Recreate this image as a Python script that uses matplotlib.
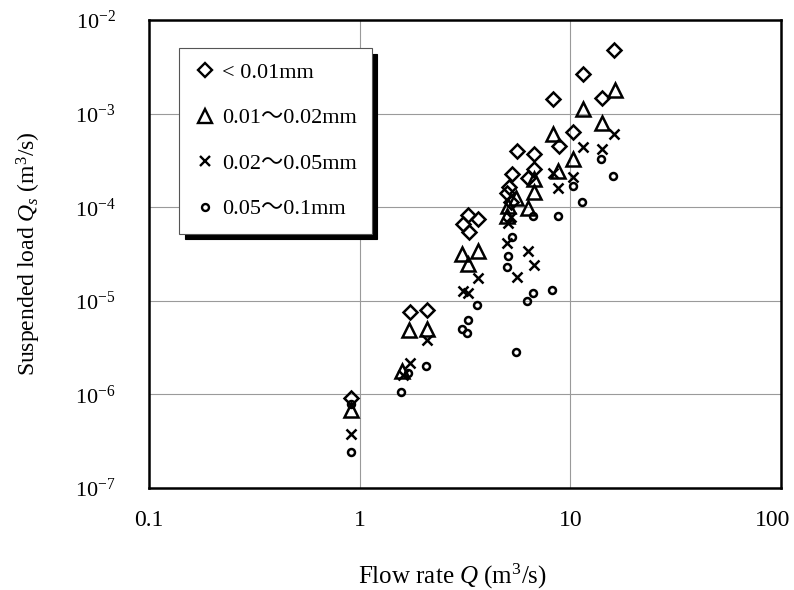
import math
import matplotlib
matplotlib.use("Agg")
import matplotlib.pyplot as plt
import matplotlib.transforms as mtransforms
from matplotlib.ticker import FixedLocator, FuncFormatter, NullLocator

plt.rcParams['font.family'] = ['Liberation Serif', 'Noto Sans CJK JP']
plt.rcParams['mathtext.fontset'] = 'custom'
plt.rcParams['mathtext.rm'] = 'Liberation Serif'
plt.rcParams['mathtext.it'] = 'Liberation Serif:italic'

# ---- data ----
labels = ['< 0.01mm', '0.01～0.02mm', '0.02～0.05mm', '0.05～0.1mm']

q_d = [0.91, 1.73, 2.09, 3.27, 3.64, 3.09, 3.30, 5.58, 6.72, 5.28, 6.72, 6.29,
       5.11, 5.00, 5.23, 8.27, 8.83, 10.29, 11.47, 14.13, 16.06]
qs_d = [9.2e-7, 7.6e-6, 7.9e-6, 8.3e-5, 7.5e-5, 6.6e-5, 5.4e-5, 4.0e-4, 3.7e-4,
        2.26e-4, 2.56e-4, 2.05e-4, 1.64e-4, 1.42e-4, 1.14e-4, 1.43e-3, 4.5e-4,
        6.4e-4, 2.65e-3, 1.47e-3, 4.8e-3]

q_t = [0.91, 1.59, 1.71, 2.09, 3.06, 3.64, 3.27, 5.52, 5.06, 5.00, 6.29, 6.72,
       6.72, 8.73, 8.27, 10.29, 11.47, 14.13, 16.23]
qs_t = [6.8e-7, 1.78e-6, 4.9e-6, 5.0e-6, 3.2e-5, 3.4e-5, 2.5e-5, 1.25e-4, 1.03e-4,
        8.0e-5, 9.8e-5, 2.0e-4, 1.45e-4, 2.45e-4, 6.1e-4, 3.3e-4, 1.12e-3, 8.0e-4,
        1.79e-3]

q_x = [0.91, 1.61, 1.73, 2.09, 3.64, 3.09, 3.27, 5.23, 5.06, 5.00, 6.29, 6.72,
       5.58, 8.27, 8.73, 10.29, 11.47, 14.13, 16.06]
qs_x = [3.8e-7, 1.61e-6, 2.16e-6, 3.8e-6, 1.75e-5, 1.27e-5, 1.21e-5, 7.9e-5,
        6.8e-5, 4.15e-5, 3.4e-5, 2.4e-5, 1.8e-5, 2.32e-4, 1.6e-4, 2.1e-4, 4.4e-4,
        4.2e-4, 6.05e-4]

q_c = [0.91, 0.91, 1.57, 1.70, 2.06, 3.60, 3.27, 3.06, 3.23, 5.28, 5.06, 5.00,
       6.64, 6.64, 6.23, 5.52, 8.18, 8.73, 10.29, 11.35, 13.97, 15.92]
qs_c = [7.9e-7, 2.4e-7, 1.06e-6, 1.69e-6, 2.0e-6, 9.0e-6, 6.2e-6, 5.0e-6, 4.5e-6,
        4.8e-5, 3.0e-5, 2.3e-5, 8.0e-5, 1.21e-5, 1.0e-5, 2.84e-6, 1.3e-5, 8.0e-5,
        1.68e-4, 1.14e-4, 3.27e-4, 2.16e-4]

x_ticks = [0.1, 1, 10, 100]
y_ticks = [1e-7, 1e-6, 1e-5, 1e-4, 1e-3, 1e-2]

# ---- figure ----
fig = plt.figure(figsize=(7.94, 5.90), dpi=100)
ax = fig.add_axes([149/794, 1-488/590, 632/794, 468/590])
ax.set_xscale('log')
ax.set_yscale('log')
ax.set_xlim(0.1, 100)
ax.set_ylim(1e-7, 1e-2)

ax.grid(True, which='major', color='#9a9a9a', linewidth=0.8)
ax.set_axisbelow(True)

kw = dict(linestyle='none', color='black', markerfacecolor='none', markeredgewidth=1.8)
ax.plot(q_d, qs_d, marker='D', markersize=7, label=labels[0], **kw)
ax.plot(q_t, qs_t, marker='^', markersize=9.5, label=labels[1], **kw)
ax.plot(q_x, qs_x, marker='x', markersize=7, label=labels[2], **kw)
ax.plot(q_c, qs_c, marker='o', markersize=5, label=labels[3], **kw)

ax.xaxis.set_major_locator(FixedLocator(x_ticks))
ax.yaxis.set_major_locator(FixedLocator(y_ticks))
ax.xaxis.set_minor_locator(NullLocator())
ax.yaxis.set_minor_locator(NullLocator())
ax.xaxis.set_major_formatter(FuncFormatter(lambda v, p: '%g' % v))
ax.yaxis.set_major_formatter(FuncFormatter(
    lambda v, p: r'$\mathregular{10^{%d}}$' % round(math.log10(v))))
ax.tick_params(axis='x', length=0, labelsize=17, pad=16)
ax.tick_params(axis='y', length=0, labelsize=16, pad=24)

# keep the last x label inside the figure, as in the reference
fig.canvas.draw()
xl = ax.get_xticklabels()
xl[-1].set_horizontalalignment('right')
xl[-1].set_transform(xl[-1].get_transform() +
                     mtransforms.ScaledTranslation(9/100, 0, fig.dpi_scale_trans))

for s in ax.spines.values():
    s.set_linewidth(1.8)
    s.set_color('black')

ax.set_xlabel(r'Flow rate $Q$ (m$^{3}$/s)', fontsize=18, labelpad=22)
ax.xaxis.label.set_x((452 - 149) / 632)
ax.set_ylabel(r'Suspended load $Q_s$ (m$^{3}$/s)', fontsize=17, labelpad=23)

leg = ax.legend(loc='upper left', bbox_to_anchor=(30/632, 1-28/468), fontsize=16,
                borderaxespad=0, frameon=True, fancybox=False, framealpha=1,
                edgecolor='#555555', borderpad=0.65, labelspacing=1.12,
                handlelength=1.0, handletextpad=0.3,
                shadow={'ox': 4, 'oy': -4, 'color': 'black', 'alpha': 1})
leg.get_frame().set_linewidth(0.8)
for h in leg.legend_handles:
    h.set_markeredgewidth(1.7)

fig.savefig('out.png', dpi=100)
